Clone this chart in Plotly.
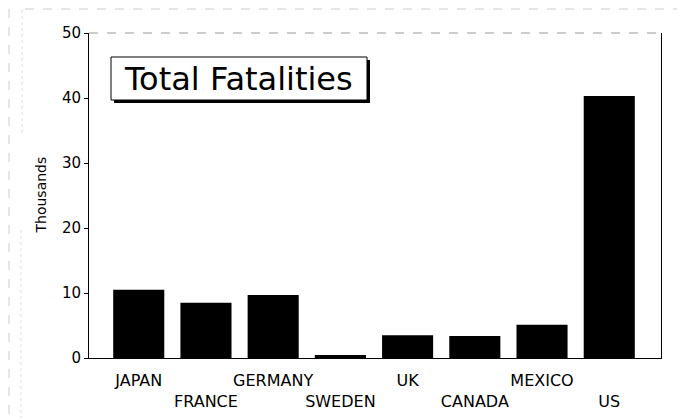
import plotly.graph_objects as go

categories = ["JAPAN", "FRANCE", "GERMANY", "SWEDEN", "UK", "CANADA", "MEXICO", "US"]
fatalities_thousands = [10.5, 8.5, 9.7, 0.45, 3.5, 3.4, 5.1, 40.3]
y_ticks = [0, 10, 20, 30, 40, 50]
tick_text = [c if i % 2 == 0 else "<br>" + c for i, c in enumerate(categories)]

FONT = "DejaVu Sans"

fig = go.Figure(go.Bar(
    x=categories,
    y=fatalities_thousands,
    width=0.76,
    marker=dict(color="black", line=dict(width=0)),
))

# page body has an 8px margin; figure is sized to fill the rest of the window
OFF = 8
W, H = 685 - OFF, 420 - OFF
L, R, T, B = 89 - OFF, 24, 33 - OFF, 62
pw, ph = W - L - R, H - T - B

def px(x):  # page pixel -> paper x
    return (x - OFF - L) / pw

def py(y):  # page pixel -> paper y
    return (H - B - (y - OFF)) / ph

shapes = [
    # title box shadow and box
    dict(type="rect", xref="paper", yref="paper", x0=px(114), x1=px(370), y0=py(103), y1=py(60),
         fillcolor="black", line=dict(width=0), layer="above"),
    dict(type="rect", xref="paper", yref="paper", x0=px(111), x1=px(367), y0=py(100), y1=py(57),
         fillcolor="white", line=dict(color="black", width=1), layer="above"),
    # top frame (faint, dashed)
    dict(type="line", xref="paper", yref="paper", x0=0, x1=1, y0=1, y1=1,
         line=dict(color="#999999", width=1, dash="dash")),
    # scan border lines
    dict(type="line", xref="paper", yref="paper", x0=px(25), x1=px(685), y0=py(9), y1=py(9),
         line=dict(color="#cccccc", width=1, dash="dash")),
    dict(type="line", xref="paper", yref="paper", x0=px(9), x1=px(9), y0=py(9), y1=py(420),
         line=dict(color="#cccccc", width=1, dash="dash")),
    dict(type="line", xref="paper", yref="paper", x0=px(22), x1=px(22), y0=py(10), y1=py(135),
         line=dict(color="#dddddd", width=1, dash="dot")),
    dict(type="line", xref="paper", yref="paper", x0=px(21), x1=px(21), y0=py(230), y1=py(420),
         line=dict(color="#dddddd", width=1, dash="dot")),
]

fig.update_layout(
    width=W, height=H,
    margin=dict(l=L, r=R, t=T, b=B, pad=0, autoexpand=False),
    paper_bgcolor="white", plot_bgcolor="white",
    font=dict(family=FONT, color="black"),
    showlegend=False,
    shapes=shapes,
    annotations=[
        dict(text="Total Fatalities", xref="paper", yref="paper", x=px(238), y=py(78.5),
             showarrow=False, font=dict(family=FONT, size=32, color="black"),
             xanchor="center", yanchor="middle"),
        dict(text="Thousands", xref="paper", yref="paper", x=px(40), y=0.5, textangle=-90,
             showarrow=False, font=dict(family=FONT, size=14, color="black"),
             xanchor="center", yanchor="middle"),
    ],
    xaxis=dict(
        range=[-0.74, 7.77],
        tickmode="array", tickvals=categories, ticktext=tick_text,
        tickangle=0, automargin=False,
        tickfont=dict(family=FONT, size=16, color="black"),
        showline=True, linecolor="black", linewidth=1,
        ticks="", ticklabelstandoff=8,
        showgrid=False, zeroline=False,
    ),
    yaxis=dict(
        range=[0, 50], automargin=False,
        tickvals=y_ticks,
        tickfont=dict(family=FONT, size=15, color="black"),
        showline=True, linecolor="black", linewidth=1, mirror=True,
        ticks="outside", ticklen=4, tickcolor="black",
        showgrid=False, zeroline=False,
    ),
)

fig.write_html("out.html")
